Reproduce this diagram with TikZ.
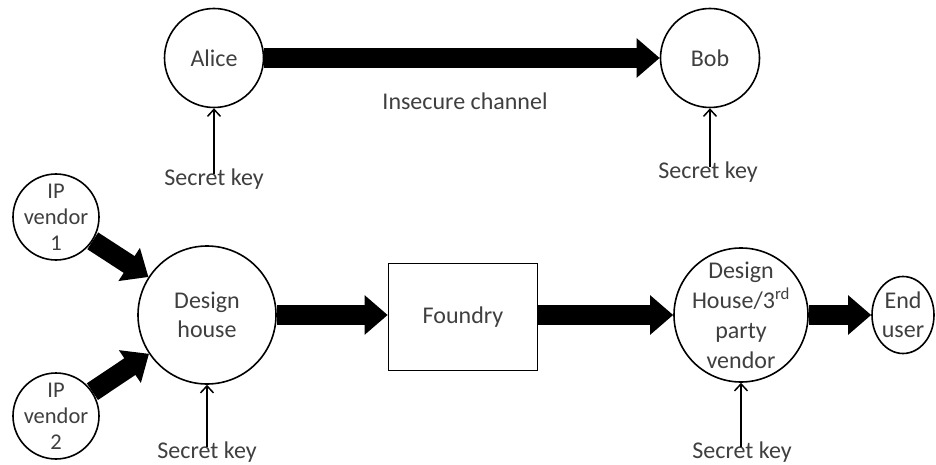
\documentclass[tikz,border=0pt]{standalone}
\usepackage{fontspec}
\setmainfont{Carlito}
\usetikzlibrary{arrows.meta,shapes.geometric}
\definecolor{txtgray}{HTML}{3F3F3F}
\tikzset{
  txt/.style={text=txtgray,font=\fontsize{24}{29}\selectfont,align=center,inner sep=0pt},
  smalltxt/.style={text=txtgray,font=\fontsize{22.5}{26}\selectfont,align=center,inner sep=0pt},
  ring/.style={circle,draw=black,line width=1.6pt,fill=white,inner sep=0pt},
  oval/.style={ellipse,draw=black,line width=1.6pt,fill=white,inner sep=0pt},
  boxnode/.style={rectangle,draw=black,line width=1.6pt,fill=white,inner sep=0pt},
  fatarrow/.style={line width=20pt,-{Triangle[length=23pt,width=38pt]}},
  keyarrow/.style={line width=1.5pt,-{Straight Barb[length=7pt,width=13pt,line width=1.5pt]}}
}
\begin{document}
\begin{tikzpicture}[x=1pt,y=-1pt]
\useasboundingbox (0,0) rectangle (936,465);
% top row
\node[ring,minimum size=99pt,label={[txt]center:Alice}] (alice) at (214,58) {};
\node[ring,minimum size=99pt,label={[txt]center:Bob}] (bob) at (710,58) {};
\node[txt] (chan) at (465,101) {Insecure channel};
\node[txt] (skA) at (214,179) {Secret key};
\node[txt] (skB) at (708,172) {Secret key};
% bottom row
\node[ring,minimum size=86pt,label={[smalltxt]center:{IP\\vendor\\1}}] (ip1) at (56,217) {};
\node[ring,minimum size=86pt,label={[smalltxt]center:{IP\\vendor\\2}}] (ip2) at (56,416) {};
\node[ring,minimum size=138pt,label={[txt]center:{Design\\house}}] (dh) at (207,315) {};
\node[boxnode,minimum width=149pt,minimum height=107pt] (fd) at (463,317) {};
\node[txt] at (fd.center) {Foundry};
\node[ring,minimum size=134pt,label={[txt,font=\fontsize{24}{30}\selectfont]center:{Design\\House/3\textsuperscript{rd}\\party\\vendor}}] (dh3) at (741,315) {};
\node[oval,minimum width=62pt,minimum height=77pt,label={[txt]center:{End\\user}}] (eu) at (903,315) {};
\node[txt] (skD) at (207,452) {Secret key};
\node[txt] (skE) at (742,452) {Secret key};
% thick arrows
\draw[fatarrow] (alice.east) -- (bob.west);
\draw[fatarrow] (ip1) -- (dh);
\draw[fatarrow] (ip2) -- (dh);
\draw[fatarrow] (dh.east) -- (dh.east -| fd.west);
\draw[fatarrow] (fd.east |- dh3.west) -- (dh3.west);
\draw[fatarrow] (dh3.east) -- (eu.west);
% key arrows
\draw[keyarrow] ([yshift=-5pt]skA.north -| alice.south) -- (alice.south);
\draw[keyarrow] ([yshift=-5pt]skB.north -| bob.south) -- (bob.south);
\draw[keyarrow] ([yshift=-5pt]skD.north -| dh.south) -- (dh.south);
\draw[keyarrow] ([yshift=-5pt]skE.north -| dh3.south) -- (dh3.south);
\end{tikzpicture}
\end{document}
